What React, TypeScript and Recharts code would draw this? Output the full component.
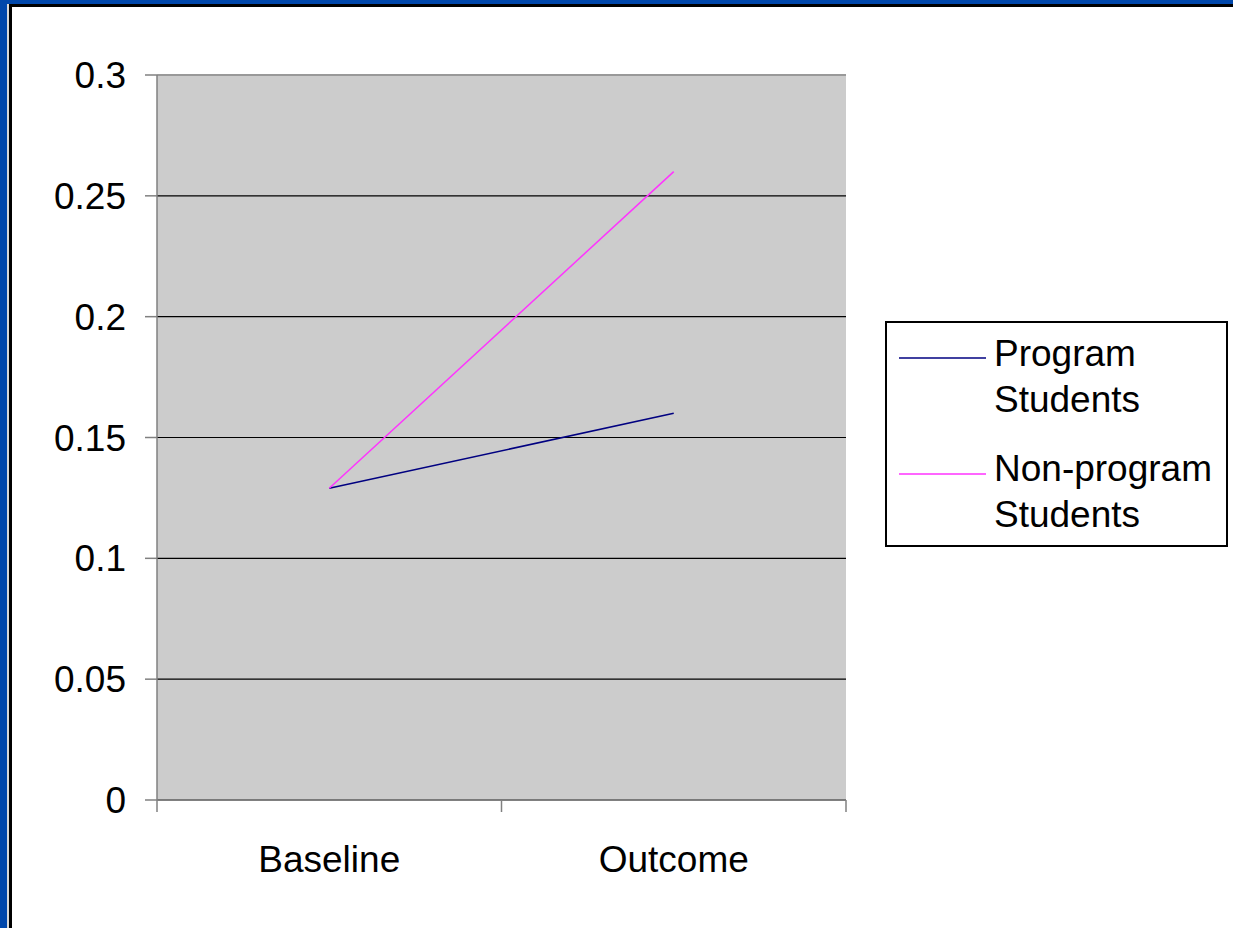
import React from 'react';
import {
  LineChart,
  Line,
  XAxis,
  YAxis,
  CartesianGrid,
  Legend,
  ReferenceLine,
} from 'recharts';

// Survey periods and the share recorded for each student group
const periods = ['Baseline', 'Outcome'];
const programStudents = [0.129, 0.16];
const nonProgramStudents = [0.129, 0.26];
const seriesNames = ['Program Students', 'Non-program Students'];
const yTicks = [0, 0.05, 0.1, 0.15, 0.2, 0.25, 0.3];

const data = periods.map((period, i) => ({
  period,
  program: programStudents[i],
  nonProgram: nonProgramStudents[i],
}));

const FONT = '"Liberation Sans", Arial, Helvetica, sans-serif';
const FONT_SIZE = 37;
const AXIS_GRAY = '#808080';

// Category tick: label centred in its band, tick marks on the band edges
const PeriodTick = (props: any) => {
  const { x, y, payload, index, visibleTicksCount } = props;
  const half = payload?.offset ?? 0;
  const isLast = index === (visibleTicksCount ?? periods.length) - 1;
  return (
    <g>
      <line x1={x - half} x2={x - half} y1={y} y2={y + 12} stroke={AXIS_GRAY} strokeWidth={1.5} />
      {isLast && (
        <line x1={x + half} x2={x + half} y1={y} y2={y + 12} stroke={AXIS_GRAY} strokeWidth={1.5} />
      )}
      <text
        x={x}
        y={y + 46}
        dy="0.71em"
        textAnchor="middle"
        fontFamily={FONT}
        fontSize={FONT_SIZE}
        fill="#000"
      >
        {payload.value}
      </text>
    </g>
  );
};

const LegendBox = (props: any) => {
  const items = [...(props.payload || [])].sort(
    (a: any, b: any) => seriesNames.indexOf(String(a.value)) - seriesNames.indexOf(String(b.value))
  );
  const tops = [8, 123];
  return (
    <div
      style={{
        position: 'relative',
        width: 343,
        height: 226,
        border: '2px solid #000',
        boxSizing: 'border-box',
        background: '#fff',
        fontFamily: FONT,
        fontSize: FONT_SIZE,
        lineHeight: '46px',
        color: '#000',
      }}
    >
      {items.map((item: any, i: number) => {
        const name = String(item.value);
        const cut = name.indexOf(' ');
        const first = cut > 0 ? name.slice(0, cut) : name;
        const second = cut > 0 ? name.slice(cut + 1) : '';
        return (
          <div key={name} style={{ position: 'absolute', left: 0, top: tops[i] ?? i * 115, width: '100%' }}>
            <svg
              width={90}
              height={4}
              style={{ position: 'absolute', left: 12, top: 25 + i }}
            >
              <line x1={0} x2={87} y1={2} y2={2} stroke={item.color} strokeWidth={1.5} />
            </svg>
            <div style={{ position: 'absolute', left: 107, top: 0, whiteSpace: 'nowrap' }}>
              <div>{first}</div>
              <div>{second}</div>
            </div>
          </div>
        );
      })}
    </div>
  );
};

export default function App() {
  return (
    <div
      style={{
        position: 'fixed',
        left: 0,
        top: 0,
        width: 1233,
        height: 928,
        background: '#fff',
        overflow: 'hidden',
      }}
    >
      <LineChart
        width={1233}
        height={928}
        data={data}
        margin={{ top: 75, right: 387, bottom: 0, left: 0 }}
      >
        <CartesianGrid vertical={false} stroke="#000" strokeWidth={1.2} fill="#CCCCCC" />
        <ReferenceLine y={0.3} stroke="#999999" strokeWidth={2} />
        <XAxis
          dataKey="period"
          scale="band"
          height={128}
          axisLine={{ stroke: AXIS_GRAY, strokeWidth: 1.5 }}
          tickLine={false}
          tickSize={0}
          tickMargin={0}
          interval={0}
          tick={<PeriodTick />}
        />
        <YAxis
          width={157}
          domain={[0, 0.3]}
          ticks={yTicks}
          interval={0}
          axisLine={{ stroke: AXIS_GRAY, strokeWidth: 1.5 }}
          tickLine={{ stroke: AXIS_GRAY, strokeWidth: 1.5 }}
          tickSize={12}
          tickMargin={19}
          tick={{ fontFamily: FONT, fontSize: FONT_SIZE, fill: '#000' }}
        />
        <Legend
          layout="horizontal"
          verticalAlign="middle"
          align="center"
          content={<LegendBox />}
          wrapperStyle={{ position: 'absolute', left: 885, top: 321, width: 343, height: 226 }}
        />
        <Line
          type="linear"
          dataKey="program"
          name={seriesNames[0]}
          stroke="#000080"
          strokeWidth={1.5}
          dot={false}
          isAnimationActive={false}
        />
        <Line
          type="linear"
          dataKey="nonProgram"
          name={seriesNames[1]}
          stroke="#FF33FF"
          strokeWidth={1.5}
          dot={false}
          isAnimationActive={false}
        />
      </LineChart>
      {/* slide frame along the top and left edges */}
      <div style={{ position: 'absolute', left: 0, top: 0, width: 1233, height: 4, background: '#0047AB' }} />
      <div style={{ position: 'absolute', left: 9, top: 4, width: 1224, height: 3, background: '#000' }} />
      <div style={{ position: 'absolute', left: 0, top: 0, width: 7, height: 928, background: '#0047AB' }} />
      <div style={{ position: 'absolute', left: 7, top: 4, width: 2, height: 924, background: '#d8d8d8' }} />
      <div style={{ position: 'absolute', left: 9, top: 4, width: 3, height: 924, background: '#000' }} />
    </div>
  );
}
